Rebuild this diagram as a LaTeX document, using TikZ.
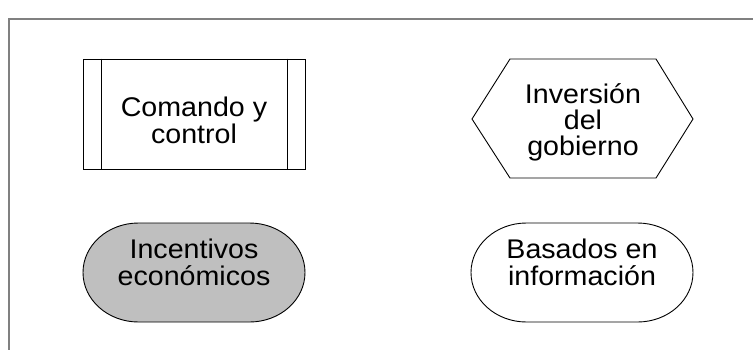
\documentclass[tikz,border=0pt]{standalone}
\usepackage{fontspec}
\setmainfont{Liberation Sans}[FakeStretch=1.06]
\begin{document}
\begin{tikzpicture}[x=1pt,y=-1pt,
  outline/.style={draw=black, line width=0.9pt},
  frameline/.style={draw=black!50, line width=1.8pt},
  label/.style={align=center, inner sep=0pt, text=black,
    font=\fontsize{27}{27}\selectfont},
  termfill/.style={fill=black!25}]
\useasboundingbox (0,0) rectangle (753,349);
\clip (0,0) rectangle (753,349);
\fill[white] (0,0) rectangle (753,349);
% frame
\coordinate (fbl) at (8.7,360);
\coordinate (ftl) at (8.7,18.7);
\coordinate (ftr) at (770,18.7);
\draw[frameline] (fbl) -- (ftl) -- (ftr);
% Comando y control: predefined process box
\node[outline, minimum width=222pt, minimum height=110pt, inner sep=0pt] (cmd) at (194,114) {};
\draw[outline] ([xshift=19pt]cmd.north west) -- ([xshift=19pt]cmd.south west);
\draw[outline] ([xshift=-18pt]cmd.north east) -- ([xshift=-18pt]cmd.south east);
\node[label] (cmdt) at (194,120) {Comando y\\control};
% hexagon
\coordinate (h1) at (472,119);
\coordinate (h2) at (510,59);
\coordinate (h3) at (656,59);
\coordinate (h4) at (693,119);
\coordinate (h5) at (656,178);
\coordinate (h6) at (510,178);
\draw[outline] (h1) -- (h2) -- (h3) -- (h4) -- (h5) -- (h6) -- cycle;
\node[label, font=\fontsize{27}{26}\selectfont] (inv) at (583,122) {Inversión\\del\\gobierno};
% terminators
\draw[outline, termfill] (138.5,223) -- (249.5,223)
  arc[start angle=-90, end angle=90, x radius=55.5, y radius=49.5]
  -- (138.5,322)
  arc[start angle=90, end angle=270, x radius=55.5, y radius=49.5] -- cycle;
\node[label] (inc) at (194,262) {Incentivos\\económicos};
\draw[outline] (526.5,223) -- (637.5,223)
  arc[start angle=-90, end angle=90, x radius=55.5, y radius=49.5]
  -- (526.5,322)
  arc[start angle=90, end angle=270, x radius=55.5, y radius=49.5] -- cycle;
\node[label] (bas) at (582,262) {Basados en\\información};
\end{tikzpicture}
\end{document}
